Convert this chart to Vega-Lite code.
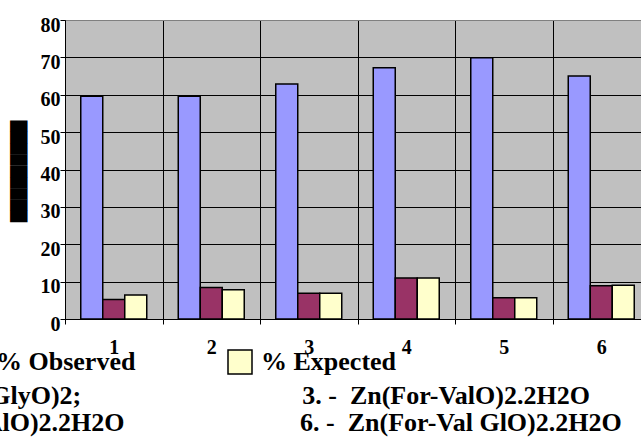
{
  "$schema": "https://vega.github.io/schema/vega-lite/v6.json",
  "width": 585,
  "height": 299,
  "autosize": {"type": "none"},
  "padding": {"left": 65, "top": 20, "right": -9, "bottom": 123},
  "background": "white",
  "data": {
    "values": [
      {"sample": 1, "series": "% Yield", "value": 59.6},
      {"sample": 1, "series": "% Observed", "value": 5.2},
      {"sample": 1, "series": "% Expected", "value": 6.4},
      {"sample": 2, "series": "% Yield", "value": 59.6},
      {"sample": 2, "series": "% Observed", "value": 8.4},
      {"sample": 2, "series": "% Expected", "value": 7.8},
      {"sample": 3, "series": "% Yield", "value": 62.9},
      {"sample": 3, "series": "% Observed", "value": 6.9},
      {"sample": 3, "series": "% Expected", "value": 6.9},
      {"sample": 4, "series": "% Yield", "value": 67.2},
      {"sample": 4, "series": "% Observed", "value": 11.0},
      {"sample": 4, "series": "% Expected", "value": 11.0},
      {"sample": 5, "series": "% Yield", "value": 69.9},
      {"sample": 5, "series": "% Observed", "value": 5.7},
      {"sample": 5, "series": "% Expected", "value": 5.7},
      {"sample": 6, "series": "% Yield", "value": 65.0},
      {"sample": 6, "series": "% Observed", "value": 8.9},
      {"sample": 6, "series": "% Expected", "value": 9.0}
    ]
  },
  "mark": {"type": "bar", "stroke": "black", "strokeWidth": 1.5},
  "encoding": {
    "x": {
      "field": "sample",
      "type": "ordinal",
      "scale": {"paddingInner": 0, "paddingOuter": 0},
      "axis": {
        "title": null,
        "labelAngle": 0,
        "labelFont": "Liberation Serif",
        "labelFontWeight": "bold",
        "labelFontSize": 20,
        "labelColor": "black",
        "labelPadding": 13,
        "tickBand": "extent",
        "tickSize": 5,
        "tickColor": "black",
        "domainColor": "black",
        "grid": true,
        "gridColor": "black",
        "gridOpacity": 1,
        "gridWidth": 1
      }
    },
    "xOffset": {
      "field": "series",
      "sort": ["% Yield", "% Observed", "% Expected"],
      "scale": {"paddingInner": 0, "paddingOuter": 0.716}
    },
    "y": {
      "field": "value",
      "type": "quantitative",
      "scale": {"domain": [0, 80], "nice": false},
      "axis": {
        "values": [0, 10, 20, 30, 40, 50, 60, 70, 80],
        "grid": true,
        "gridColor": {"condition": {"test": "datum.value === 80", "value": "#808080"}, "value": "black"},
        "gridOpacity": 1,
        "gridWidth": 1,
        "tickSize": 5,
        "tickColor": "black",
        "domainColor": "black",
        "labelFont": "Liberation Serif",
        "labelFontWeight": "bold",
        "labelFontSize": 20,
        "labelColor": "black",
        "labelPadding": 0,
        "labelOffset": 5,
        "title": "█████████",
        "titleFont": "DejaVu Sans",
        "titleFontSize": 14.7,
        "titleFontWeight": "normal",
        "titleColor": "black",
        "titleAngle": -90,
        "titleAlign": "center",
        "titleBaseline": "middle",
        "titleX": -45.5,
        "titleY": 151
      }
    },
    "color": {
      "field": "series",
      "type": "nominal",
      "scale": {
        "domain": ["% Yield", "% Observed", "% Expected"],
        "range": ["#9999FF", "#993366", "#FFFFCC"]
      },
      "legend": {
        "title": null,
        "values": ["% Observed", "% Expected"],
        "orient": "none",
        "legendX": -103,
        "legendY": 329,
        "direction": "horizontal",
        "padding": 0,
        "symbolType": "square",
        "symbolSize": 576,
        "symbolStrokeColor": "black",
        "symbolStrokeWidth": 1.5,
        "symbolOpacity": 1,
        "labelFont": "Liberation Serif",
        "labelFontWeight": "bold",
        "labelFontSize": 26,
        "labelColor": "black",
        "labelOffset": 8,
        "labelLimit": 400,
        "columnPadding": 89
      }
    }
  },
  "title": {
    "text": [
      "2. -\u00a0\u00a0Zn(For-GlyO)2;\u00a0\u00a0\u00a0\u00a0\u00a0\u00a0\u00a0\u00a0\u00a0\u00a0\u00a0\u00a0\u00a0\u00a0\u00a0\u00a0\u00a0\u00a0\u00a0\u00a0\u00a0\u00a0\u00a0\u00a0\u00a0\u00a0\u00a0\u00a0\u00a0\u00a0\u00a0\u00a0\u00a0\u00a03. -\u00a0\u00a0Zn(For-ValO)2.2H2O",
      "5. - Zn(For-AlO)2.2H2O\u00a0\u00a0\u00a0\u00a0\u00a0\u00a0\u00a0\u00a0\u00a0\u00a0\u00a0\u00a0\u00a0\u00a0\u00a0\u00a0\u00a0\u00a0\u00a0\u00a0\u00a0\u00a0\u00a0\u00a0\u00a0\u00a0\u00a06. -\u00a0\u00a0Zn(For-Val GlO)2.2H2O"
    ],
    "orient": "bottom",
    "anchor": "start",
    "frame": "group",
    "dx": -211,
    "dy": 17,
    "offset": 10,
    "font": "Liberation Serif",
    "fontSize": 26,
    "fontWeight": "bold",
    "color": "black",
    "lineHeight": 27,
    "baseline": "alphabetic"
  },
  "config": {
    "view": {"fill": "#C0C0C0", "stroke": "#808080"}
  }
}
